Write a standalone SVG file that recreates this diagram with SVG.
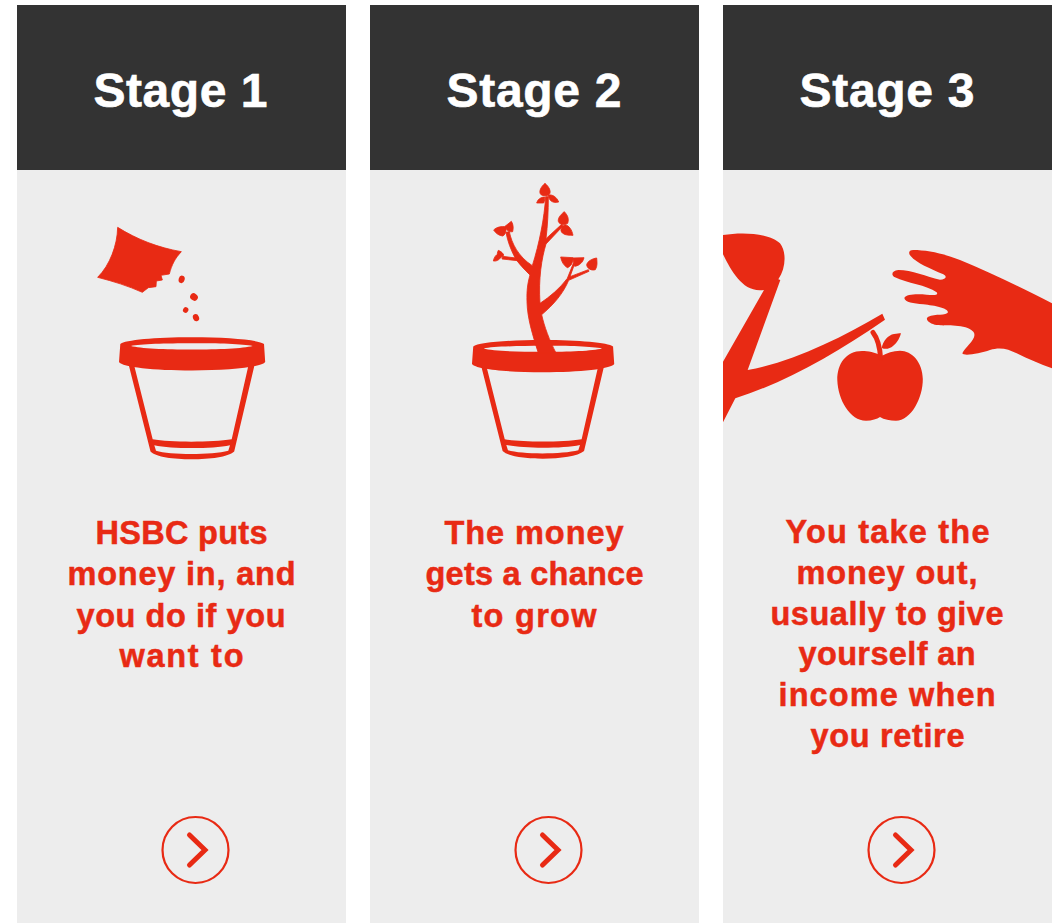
<svg xmlns="http://www.w3.org/2000/svg" width="1052" height="923" viewBox="0 0 1052 923">
<style>
.body{fill:#ededed}
.head{fill:#333333}
.r{fill:#e82a14}
.title{font:bold 48px "Liberation Sans",Arial,sans-serif;fill:#fff;stroke:#fff;stroke-width:.6;text-anchor:middle}
.txt{font:bold 32.5px "Liberation Sans",Arial,sans-serif;fill:#e82a14;stroke:#e82a14;stroke-width:.5;text-anchor:middle}
.ring{fill:none;stroke:#e82a14;stroke-width:2.2}
.chev{fill:none;stroke:#e82a14;stroke-width:5;stroke-linecap:round;stroke-linejoin:miter}
.fat{stroke:#e82a14;stroke-width:2.500;stroke-linejoin:round}
</style>
<defs>
<g id="pot">
<path class="r" fill-rule="evenodd" d="M120.300 344C125 340 155 337.300 192 337.300S259 340 264 344L265.200 362C262 367 230 370.500 192 370.500S122 367 119 362ZM131 346C140 348.500 165 349.500 192 349.500S243 348.500 252.700 346C243 344 218 343.300 192 343.300S140 344 131 346Z"/>
<path class="r" fill-rule="evenodd" d="M129 366L134.300 366L152.700 439.300C170 442.500 212 442.500 231.700 439.300L248.300 366L254.300 366L234.200 451.500C228 457 210 459.300 191.700 459.300S156 457 150.500 451.500ZM154.300 445.200L156 450.700C170 455 212 455 228.300 450.700L230 445.200C212 449 172 449 154.300 445.200Z"/>
</g>
<g id="go">
<circle class="ring" cx="0" cy="0" r="33"/>
<path class="chev" d="M-6 -15L9.500 0L-6 15"/>
</g>
</defs>
<g id="stage-1">
<rect class="body" x="17" y="170" width="329" height="753"/>
<rect class="head" x="17" y="5" width="329" height="165"/>
<text class="title" x="180.500" y="107" textLength="174">Stage 1</text>
<g id="seed-bag" transform="translate(80 210) scale(.33333)">
<path class="r fat" d="M113 52C170 88 235 113 304 125C285 145 275 165 268 192L243 196L247 210L229 213L228 230L205 233L187 247C145 228 100 214 53 202C90 165 112 105 113 52Z"/>
<ellipse class="r" cx="305" cy="208" rx="9" ry="11.500" transform="rotate(15 305 208)"/>
<ellipse class="r" cx="342" cy="261" rx="12" ry="10.500" transform="rotate(35 342 261)"/>
<ellipse class="r" cx="317" cy="300" rx="8" ry="8.500" transform="rotate(30 317 300)"/>
<ellipse class="r" cx="348" cy="323" rx="9" ry="11" transform="rotate(-25 348 323)"/>
</g>
<use href="#pot"/>
<text class="txt" x="181.500" y="544" textLength="172">HSBC puts</text>
<text class="txt" x="181.500" y="585" textLength="228">money in, and</text>
<text class="txt" x="181" y="627" textLength="209">you do if you</text>
<text class="txt" x="181.500" y="667" textLength="124">want to</text>
<use href="#go" x="195.500" y="850"/>
</g>
<g id="stage-2">
<rect class="body" x="370" y="170" width="329" height="753"/>
<rect class="head" x="370" y="5" width="329" height="165"/>
<text class="title" x="534" y="107" textLength="175">Stage 2</text>
<use href="#pot" transform="translate(543 340) scale(.973) translate(-192 -337.300)"/>
<g id="tree" transform="translate(450 175) scale(.33333)">
<path class="r fat" d="M265 534C248 480 232 430 231 380C230 345 233 325 240 300C225 285 205 265 195 248C183 225 173 200 168 172L178 170C185 205 205 245 247 272C268 205 283 130 287 65L295 65C295 110 293 150 288 191L335 148L339 153L288 207C275 250 265 310 270 385C300 365 330 340 352 310L370 265L374 266L360 305L415 284L417 289L356 316C340 355 310 390 275 419C283 455 298 495 318 534Z"/>
<path class="r fat" d="M158 244L205 250L212 258L156 252Z"/>
<path class="r fat" d="M285 25C272 36 266 50 272 58C278 64 292 64 298 58C304 50 298 36 285 25Z"/>
<path class="r fat" d="M284 66C272 66 263 73 260 84L281 84C284 78 285 72 284 66Z"/>
<path class="r fat" d="M295 60C296 74 305 86 326 81C320 66 308 58 295 60Z"/>
<path class="r fat" d="M343 110C330 120 320 134 327 143C333 150 346 150 353 145C358 130 352 120 343 110Z"/>
<path class="r fat" d="M345 149C333 155 329 166 337 174C346 182 358 180 369 181C366 165 358 152 345 149Z"/>
<path class="r fat" d="M131 165C140 156 155 153 168 156C169 170 166 180 158 183C148 182 138 176 131 165Z"/>
<path class="r fat" d="M165 154L184 139C191 150 190 160 188 170C178 172 170 168 165 154Z"/>
<path class="r fat" d="M145 226C153 229 161 236 161 241C156 248 148 248 143 245C141 238 142 232 145 226Z"/>
<path class="r fat" d="M153 247C146 256 140 259 130 258C132 247 138 239 146 236Z"/>
<path class="r fat" d="M332 246L369 248C370 262 363 274 352 278C342 272 334 260 332 246Z"/>
<path class="r fat" d="M369 249L402 248C399 262 388 272 374 274C371 266 369 258 369 249Z"/>
<path class="r fat" d="M440 249C427 251 413 258 410 269C411 281 425 288 436 284C443 272 441 262 440 249Z"/>
</g>
<text class="txt" x="534" y="544" textLength="179">The money</text>
<text class="txt" x="534.500" y="585" textLength="218">gets a chance</text>
<text class="txt" x="534" y="627" textLength="125">to grow</text>
<use href="#go" x="548.500" y="850"/>
</g>
<g id="stage-3">
<rect class="body" x="723" y="170" width="329" height="753"/>
<rect class="head" x="723" y="5" width="329" height="165"/>
<text class="title" x="887" y="107" textLength="175">Stage 3</text>
<g id="picker" transform="translate(720 225) scale(.33333)">
<path class="r" d="M9 30C70 20 150 25 180 55C200 80 198 130 175 163L181 165L83 435C220 410 360 340 487 266L495 284C340 390 200 470 46 520L9 592L9 410L132 195C70 205 35 140 9 88Z"/>
</g>
<g id="apple">
<path class="r" d="M881.500 356C875 352 868 351 862 351C846 351 837 364 837.300 380C838 400 850 420.700 866 420.700C872 420.700 877 419 880 417C884 419.500 890 420.700 896 420.700C911 420.700 923 398 922.800 379C922.500 362 912 350.700 900 350.700C893 350.700 887 353 881.500 356Z"/>
<path fill="none" stroke="#e82a14" stroke-width="5" stroke-linecap="round" d="M873 332.500C878 339 880 348 880.500 358"/>
<path class="r" d="M881.700 348C883 341 888 335 894 334C897 333.500 899 333.300 901 333.300C899 340 896 344 893 346C890 348.500 886 349.800 881.700 348Z"/>
</g>
<g id="hand" transform="translate(880 235) scale(.33333)">
<path class="r" d="M516 205C430 160 330 112 240 75C190 55 140 45 100 45C85 45 85 55 92 63C110 85 150 100 190 118C203 125 197 134 180 134C140 125 95 105 55 105C35 107 32 120 45 127C80 145 140 150 170 172C176 180 165 182 140 179C115 177 78 176 73 189C75 203 100 205 130 208C165 212 205 220 204 232C200 243 165 236 145 245C132 252 150 267 170 270C200 274 255 265 280 290C295 310 255 335 247 355C252 365 300 355 330 345C360 335 385 342 410 355C445 372 480 388 516 400Z"/>
</g>
<text class="txt" x="887.500" y="543" textLength="204">You take the</text>
<text class="txt" x="887" y="584" textLength="181">money out,</text>
<text class="txt" x="887" y="625" textLength="233">usually to give</text>
<text class="txt" x="887" y="665" textLength="177">yourself an</text>
<text class="txt" x="887" y="706" textLength="217">income when</text>
<text class="txt" x="887.500" y="747" textLength="154">you retire</text>
<use href="#go" x="901.500" y="850"/>
</g>
</svg>
